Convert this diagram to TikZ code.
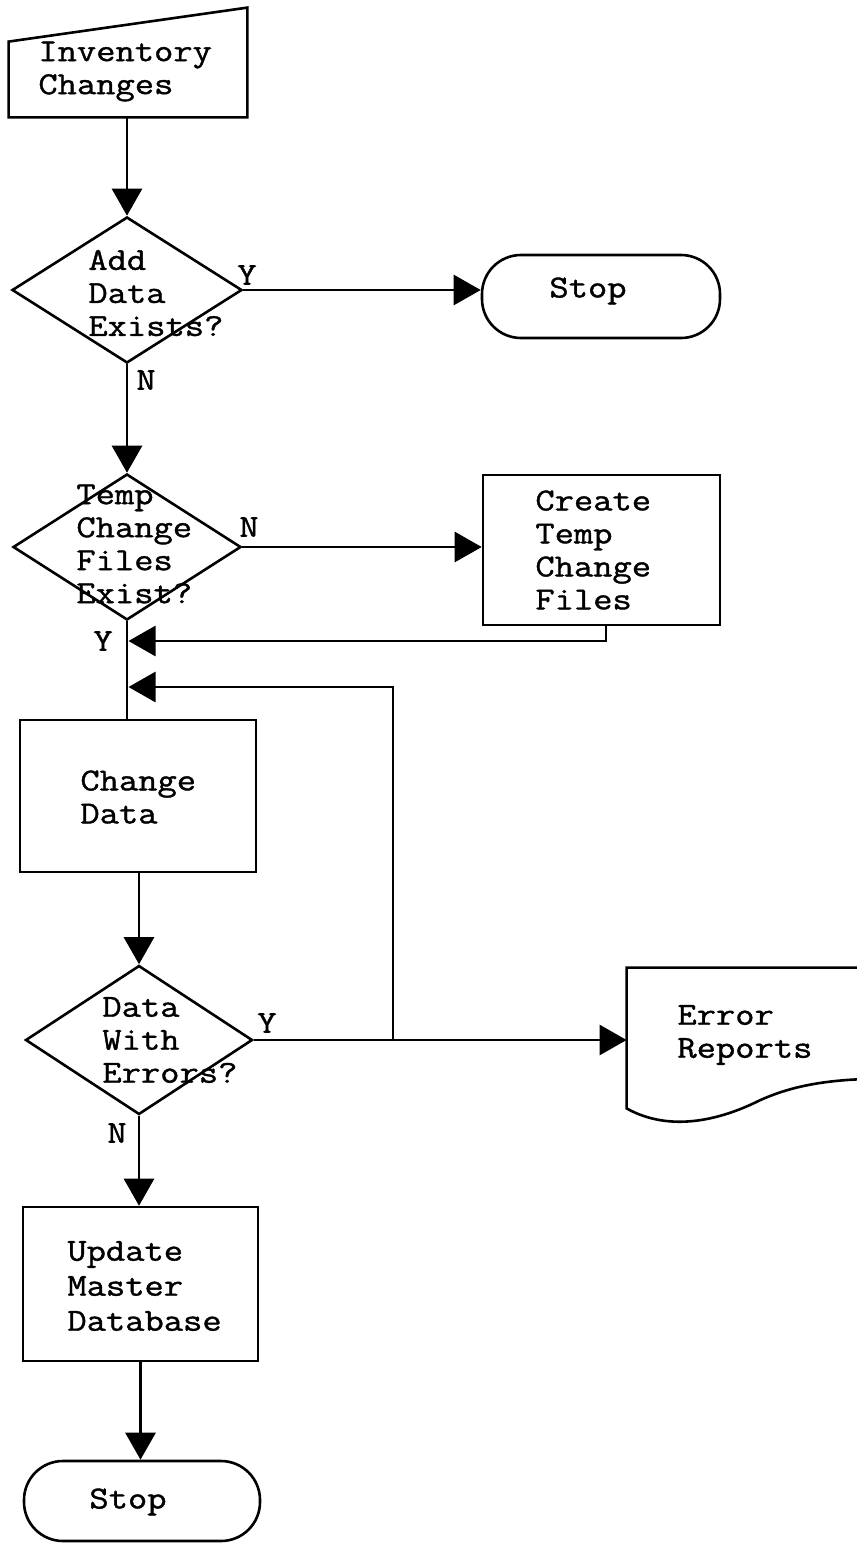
\documentclass[tikz,border=0pt]{standalone}
\usepackage{fontspec}
\setmonofont{Latin Modern Mono}[FakeStretch=1.17, FakeBold=1.2]
\usetikzlibrary{arrows.meta,shapes.geometric,calc}
\begin{document}
\begin{tikzpicture}[x=0.5pt,y=-0.5pt,
  every node/.style={font=\ttfamily\fontsize{16}{16.5}\selectfont},
  box/.style={draw, line width=1.3pt, rectangle, inner sep=0pt},
  decision/.style={draw, line width=1.3pt, diamond, inner sep=0pt},
  terminal/.style={draw, line width=1.3pt, rectangle, rounded corners=19.5pt, inner sep=0pt},
  ghost/.style={rectangle, inner sep=0pt},
  txt/.style={align=left, anchor=west, inner sep=0pt},
  lbl/.style={inner sep=0pt},
  flow/.style={line width=1.4pt, -{Triangle[length=13.5pt,width=15pt]}},
  link/.style={line width=1.4pt}]

\useasboundingbox (0,0) rectangle (857,1543);

% ---- shapes ----
\node[ghost, minimum width=119pt, minimum height=54.5pt] (inp) at (128,62.5) {};
\draw[line width=1.3pt] (inp.south west) -- (inp.south east) -- (inp.north east)
  -- ($(inp.north west)+(0,34)$) -- cycle;
\node[txt] (tinp) at (38,71.5) {Inventory\\Changes};

\node[decision, minimum width=115pt, minimum height=73pt] (d1) at (127,290) {};
\node[txt] (td1) at (88,293) {Add\\Data\\Exists?};

\node[terminal, minimum width=119pt, minimum height=41.5pt] (stop1) at (601,296.5) {};
\node[lbl] (tstop1) at (588,291) {Stop};

\node[decision, minimum width=114pt, minimum height=73pt] (d2) at (127,547) {};
\node[txt] (td2) at (76,544) {Temp\\Change\\Files\\Exist?};

\node[box, minimum width=118.5pt, minimum height=75pt] (create) at (601.5,550) {};
\node[txt] (tcreate) at (535,550) {Create\\Temp\\Change\\Files};

\node[box, minimum width=118pt, minimum height=76pt] (cd) at (138,796) {};
\node[txt] (tcd) at (80,797) {Change\\Data};

\node[decision, minimum width=113.5pt, minimum height=74.5pt] (d3) at (139,1040) {};
\node[txt] (td3) at (102,1040) {Data\\With\\Errors?};

\node[ghost, minimum width=136.5pt, minimum height=70pt] (err) at (763.5,1038) {};
\draw[line width=1.3pt] (err.north east) -- (err.north west) -- (err.south west)
  .. controls ($(err.south west)+(43,24)$) and ($(err.south west)+(93,12)$) .. ($(err.south west)+(133,-8)$)
  .. controls ($(err.south west)+(173,-26)$) and ($(err.south west)+(213,-30)$) .. ($(err.south west)+(273,-30)$);
\node[txt] (terr) at (677,1035) {Error\\Reports};

\node[box, minimum width=117.5pt, minimum height=77pt] (upd) at (140.5,1284) {};
\node[txt, font=\ttfamily\fontsize{16}{17.5}\selectfont] (tupd) at (67,1286) {Update\\Master\\Database};

\node[terminal, minimum width=118pt, minimum height=40pt] (stop2) at (142,1501) {};
\node[lbl] (tstop2) at (128,1502) {Stop};

% ---- branch labels ----
\node[lbl] (y1) at (247,275) {Y};
\node[lbl] (n1) at (146,380) {N};
\node[lbl] (n2) at (249,527) {N};
\node[lbl] (y2) at (103,641) {Y};
\node[lbl] (y3) at (267,1023) {Y};
\node[lbl] (n3) at (117,1133) {N};

% ---- connectors ----
\coordinate (fb1) at (606,641);
\coordinate (j) at (393,1040);
\coordinate (fb2) at (393,687);

\draw[flow] (inp.south -| d1.north) -- (d1.north);
\draw[flow] (d1.east) -- (d1.east -| stop1.west);
\draw[flow] (d1.south) -- (d2.north);
\draw[flow] (d2.east) -- (d2.east -| create.west);
\draw[link] (d2.south) -- (d2.south |- cd.north);
\draw[flow] (create.south -| fb1) -- (fb1) -- ($(fb1 -| d2.south)+(1.5,0)$);
\draw[flow] (j) -- (fb2) -- ($(fb2 -| d2.south)+(1.5,0)$);
\draw[flow] (cd.south -| d3.north) -- (d3.north);
\draw[flow] (d3.east) -- (d3.east -| err.west);
\draw[flow] (d3.south) -- (d3.south |- upd.north);
\draw[flow] (upd.south) -- (upd.south |- stop2.north);
\end{tikzpicture}
\end{document}
